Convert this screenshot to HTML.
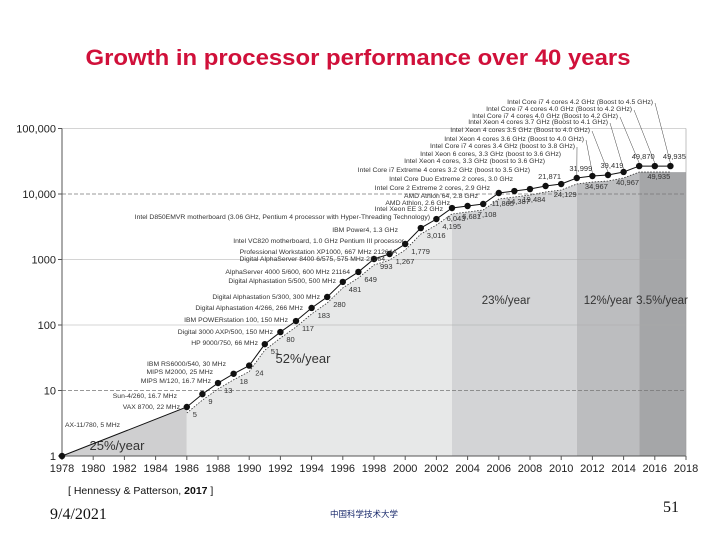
<!DOCTYPE html>
<html><head><meta charset="utf-8">
<style>
html,body{margin:0;padding:0;background:#fff;}
#wrap{position:relative;width:720px;height:540px;overflow:hidden;font-family:"Liberation Sans",sans-serif;}
svg text{font-family:"Liberation Sans",sans-serif;}
</style></head>
<body>
<div id="wrap">
<svg id="chart" width="720" height="540">
  <text x="358" y="65" text-anchor="middle" font-size="22.5" font-weight="bold" fill="#d0103a" textLength="545" lengthAdjust="spacingAndGlyphs">Growth in processor performance over 40 years</text>
  <g id="bands"></g>
  <g id="grid"></g>
  <g id="axes"></g>
  <g id="series"></g>
  <g id="labels" font-size="6.8" fill="#333"></g>
  <text x="68" y="494" font-size="10.5" fill="#111">[ Hennessy &amp; Patterson, <tspan font-weight="bold">2017</tspan> ]</text>
  <text x="50" y="519" font-size="16" fill="#111" style="font-family:'Liberation Serif',serif">9/4/2021</text>
  <text x="330" y="517" font-size="8.5" fill="#1a2a6c" style="font-family:'Liberation Sans','Noto Sans CJK SC',sans-serif">中国科学技术大学</text>
  <text x="663" y="512" font-size="16" fill="#111" style="font-family:'Liberation Serif',serif">51</text>
</svg>
</div>
<script>
const years = [1978,1986,1987,1988,1989,1990,1991,1992,1993,1994,1995,1996,1997,1998,1999,2000,2001,2002,2003,2004,2005,2006,2007,2008,2009,2010,2011,2012,2013,2014,2015,2016,2017];
const values = [1,5.6,8.8,13,18,24,51,78,115,182,268,455,646,1018,1213,1725,3020,4150,6110,6560,7040,10360,11100,11900,13250,14200,17550,18800,19500,21700,26700,26700,26700];
const valueLabels = ["","5","9","13","18","24","51","80","117","183","280","481","649","993","1,267","1,779","3,016","4,195","6,043","6,681","7,108","11,865","14,387","19,484","21,871","24,129","31,999","34,967","39,419","40,967","49,870","49,935","49,935"];
const xTicks = [1978,1980,1982,1984,1986,1988,1990,1992,1994,1996,1998,2000,2002,2004,2006,2008,2010,2012,2014,2016,2018];
const yTicks = [1,10,100,1000,10000,100000];
const yTickLabels = ["1","10","100","1000","10,000","100,000"];
const bandStarts = [1978,1986,2003,2011,2015];
const bandEnds = [1986,2003,2011,2015,2018];
const bandRates = ["25%/year","52%/year","23%/year","12%/year","3.5%/year"];
const bandColors = ["#cfcfd0","#e7e8e8","#d3d4d6","#bcbdbf","#a5a6a8"];

const X0=62,X1=686,Y0=456,DEC=65.5;
function xs(yr){return X0+(yr-1978)*(X1-X0)/40;}
function ys(v){return Y0-Math.log10(v)*DEC;}
const NS="http://www.w3.org/2000/svg";
function mk(tag,attrs,parent){const e=document.createElementNS(NS,tag);for(const k in attrs)e.setAttribute(k,attrs[k]);parent.appendChild(e);return e;}
function interp(yr){
  for(let i=0;i<years.length-1;i++){
    if(yr>=years[i]&&yr<=years[i+1]){const t=(yr-years[i])/(years[i+1]-years[i]);
      return Math.pow(10,Math.log10(values[i])*(1-t)+Math.log10(values[i+1])*t);}
  }
  return values[values.length-1];
}
const bands=document.getElementById('bands');
for(let b=0;b<bandStarts.length;b++){
  const off=b===0?0:6;
  let pts=[];
  let yrs=[bandStarts[b]];
  years.forEach(y=>{if(y>bandStarts[b]&&y<bandEnds[b])yrs.push(y);});
  yrs.push(bandEnds[b]);
  yrs.forEach(y=>{pts.push(xs(y)+","+Math.min(Y0,ys(interp(y))+off));});
  pts.push(xs(bandEnds[b])+","+Y0);pts.push(xs(bandStarts[b])+","+Y0);
  const p=mk('polygon',{points:pts.join(' '),fill:bandColors[b]},bands);
  
  
}
const grid=document.getElementById('grid');
yTicks.forEach((v,i)=>{
  if(i===0)return;
  const dashed=(v===10||v===10000);
  const l=mk('line',{x1:X0,x2:X1,y1:ys(v),y2:ys(v),stroke:dashed?'#777':'#aaa','stroke-width':dashed?0.8:0.6,'stroke-dasharray':dashed?'4,2':'none'},grid);
  
  
});
const axes=document.getElementById('axes');
mk('line',{x1:X0,x2:X0,y1:ys(100000),y2:Y0,stroke:'#555','stroke-width':1},axes);
mk('line',{x1:X0,x2:X1,y1:Y0,y2:Y0,stroke:'#555','stroke-width':1},axes);
mk('line',{x1:X1,x2:X1,y1:ys(100000),y2:Y0,stroke:'#999','stroke-width':0.6},axes);
xTicks.forEach(t=>{
  mk('line',{x1:xs(t),x2:xs(t),y1:Y0,y2:Y0+4,stroke:'#555'},axes);
  const tx=mk('text',{x:xs(t),y:Y0+16,'text-anchor':'middle','font-size':'11',fill:'#222'},axes);
  tx.textContent=t;
  
  
});
yTicks.forEach((v,i)=>{
  mk('line',{x1:X0-4,x2:X0,y1:ys(v),y2:ys(v),stroke:'#555'},axes);
  const tx=mk('text',{x:X0-6,y:ys(v)+4,'text-anchor':'end','font-size':'11',fill:'#222'},axes);
  tx.textContent=yTickLabels[i];
  
  
});
const rateX=[117,303,506,608,662];
const rateY=[450,363,304,304,304];
const rateSize=['13','13','11.5','11.5','11.5'];
bandRates.forEach((r,i)=>{
  const tx=mk('text',{x:rateX[i],y:rateY[i],'text-anchor':'middle','font-size':rateSize[i],fill:'#333'},axes);
  tx.textContent=r;
  
  
});
const series=document.getElementById('series');
const trend=years.map((y,i)=>xs(y)+","+(ys(values[i])+(i===0?0:6))).slice(1);
mk('polyline',{points:trend.join(' '),fill:'none',stroke:'#333','stroke-width':0.8,'stroke-dasharray':'1.5,1.5'},series);
const line=mk('polyline',{points:years.map((y,i)=>xs(y)+","+ys(values[i])).join(' '),fill:'none',stroke:'#111','stroke-width':1},series);


years.forEach((y,i)=>{
  const c=mk('circle',{cx:xs(y),cy:ys(values[i]),r:3.2,fill:'#111'},series);
  
  
  if(valueLabels[i]){
    const above=(y>=2009&&y%2===1);
    const late=y>=2003;
    const t=mk('text',{x:late?xs(y)+4:xs(y)+6,y:above?ys(values[i])-7:ys(values[i])+(late?13:10),'text-anchor':late?'middle':'start','font-size':'7.5',fill:'#333'},series);
    t.textContent=valueLabels[i];
    
    
  }
});
const names=[
 ["AX-11/780, 5 MHz",120,427],["VAX 8700, 22 MHz",180,409],["Sun-4/260, 16.7 MHz",177,398],["MIPS M/120, 16.7 MHz",211,383],
 ["MIPS M2000, 25 MHz",213,374],["IBM RS6000/540, 30 MHz",226,366],["HP 9000/750, 66 MHz",258,345],["Digital 3000 AXP/500, 150 MHz",273,334],
 ["IBM POWERstation 100, 150 MHz",288,322],["Digital Alphastation 4/266, 266 MHz",303,310],["Digital Alphastation 5/300, 300 MHz",320,299],
 ["Digital Alphastation 5/500, 500 MHz",336,283],["AlphaServer 4000 5/600, 600 MHz 21164",350,274],["Digital AlphaServer 8400 6/575, 575 MHz 21264",385,261],
 ["Professional Workstation XP1000, 667 MHz 21264A",397,254],["Intel VC820 motherboard, 1.0 GHz Pentium III processor",404,243],["IBM Power4, 1.3 GHz",398,232],
 ["Intel D850EMVR motherboard (3.06 GHz, Pentium 4 processor with Hyper-Threading Technology)",430,219],
 ["Intel Xeon EE 3.2 GHz",443,211],["AMD Athlon, 2.6 GHz",450,205],["AMD Athlon 64, 2.8 GHz",478,198],["Intel Core 2 Extreme 2 cores, 2.9 GHz",490,190],
 ["Intel Core Duo Extreme 2 cores, 3.0 GHz",513,181],["Intel Core i7 Extreme 4 cores 3.2 GHz (boost to 3.5 GHz)",530,172],["Intel Xeon 4 cores, 3.3 GHz (boost to 3.6 GHz)",545,163],
 ["Intel Xeon 6 cores, 3.3 GHz (boost to 3.6 GHz)",561,156],["Intel Core i7 4 cores 3.4 GHz (boost to 3.8 GHz)",575,148],["Intel Xeon 4 cores 3.6 GHz (Boost to 4.0 GHz)",584,141],
 ["Intel Xeon 4 cores 3.5 GHz (Boost to 4.0 GHz)",590,132],["Intel Xeon 4 cores 3.7 GHz (Boost to 4.1 GHz)",608,124],["Intel Core i7 4 cores 4.0 GHz (Boost to 4.2 GHz)",618,118],
 ["Intel Core i7 4 cores 4.0 GHz (Boost to 4.2 GHz)",632,111],["Intel Core i7 4 cores 4.2 GHz (Boost to 4.5 GHz)",653,104]];
const lab=document.getElementById('labels');
names.forEach((n,i)=>{
  const t=mk('text',{x:n[1],y:n[2],'text-anchor':'end'},lab);
  t.textContent=n[0];
  
  
});
const leadIdx=[26,27,28,29,30,31,32];
leadIdx.forEach((pi,k)=>{
  const n=names[names.length-7+k];
  mk('line',{x1:n[1]+2,y1:n[2]-1,x2:xs(years[pi]),y2:ys(values[pi])-3,stroke:'#444','stroke-width':0.5},lab);
});
</script>
</body></html>
